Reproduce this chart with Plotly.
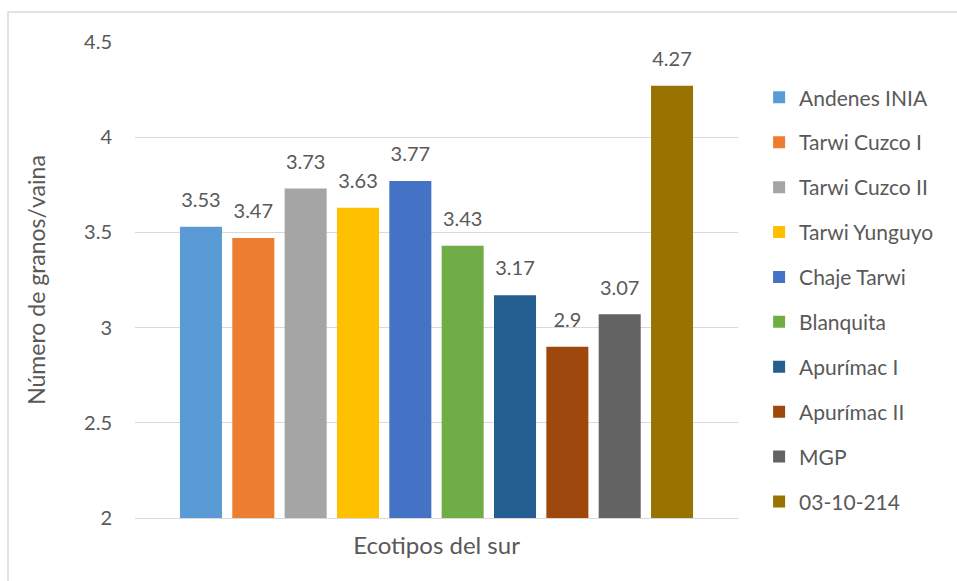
import plotly.graph_objects as go

category = ["Ecotipos del sur"]
series_names = ["Andenes INIA", "Tarwi Cuzco I", "Tarwi Cuzco II", "Tarwi Yunguyo",
                "Chaje Tarwi", "Blanquita", "Apurímac I", "Apurímac II", "MGP", "03-10-214"]
values = [3.53, 3.47, 3.73, 3.63, 3.77, 3.43, 3.17, 2.9, 3.07, 4.27]
colors = ["#5B9BD5", "#ED7D31", "#A5A5A5", "#FFC000", "#4472C4",
          "#70AD47", "#255E91", "#9E480E", "#636363", "#997300"]
y_ticks = [2, 2.5, 3, 3.5, 4, 4.5]
y_ticklabels = ["2", "2.5", "3", "3.5", "4", "4.5"]

FONT = "Lato, 'Open Sans', sans-serif"
TXT = "#595959"

fig = go.Figure()
for i, (name, v, c) in enumerate(zip(series_names, values, colors)):
    fig.add_trace(go.Bar(
        x=category, y=[v], name=name, marker=dict(color=c, line=dict(width=0)),
        offsetgroup=str(i), legendgroup=f"g{i}",
    ))
for i, (name, v) in enumerate(zip(series_names, values)):
    fig.add_trace(go.Scatter(
        x=category, y=[v], mode="markers+text", text=[f"{v:g}"],
        textposition="top center",
        textfont=dict(family=FONT, size=20, color=TXT),
        marker=dict(size=22, color="rgba(0,0,0,0)"),
        offsetgroup=str(i), showlegend=False, hoverinfo="skip", cliponaxis=False,
    ))

fig.update_layout(
    width=957, height=581,
    margin=dict(l=135, r=219, t=42, b=63),
    paper_bgcolor="white", plot_bgcolor="white",
    barmode="group", bargap=0.132, bargroupgap=0.197,
    scattermode="group", scattergap=0.132,
    font=dict(family=FONT, color=TXT, size=16),
    showlegend=True,
    legend=dict(x=1.035, y=0.926, xanchor="left", yanchor="top",
                font=dict(family=FONT, size=21, color=TXT),
                tracegroupgap=14.6, bgcolor="rgba(0,0,0,0)",
                itemwidth=30),
    xaxis=dict(showgrid=False, showline=True, linecolor="#D9D9D9", linewidth=1,
               ticks="", tickfont=dict(family=FONT, size=24, color=TXT),
               ticklabelstandoff=6),
    yaxis=dict(range=[2, 4.5], tickvals=y_ticks, ticktext=y_ticklabels,
               showgrid=True, gridcolor="#D9D9D9", gridwidth=1,
               zeroline=False, showline=False, ticks="",
               tickfont=dict(family=FONT, size=20, color=TXT),
               ticklabelstandoff=22,
               title=dict(text="Número de granos/vaina",
                          font=dict(family=FONT, size=23, color=TXT), standoff=32)),
    shapes=[dict(type="rect", xref="paper", yref="paper",
                 x0=-0.2106, x1=1.6, y0=-0.3, y1=1.063,
                 line=dict(color="#D9D9D9", width=1.5), fillcolor="rgba(0,0,0,0)",
                 layer="below")],
)

fig.write_html("out.html")
